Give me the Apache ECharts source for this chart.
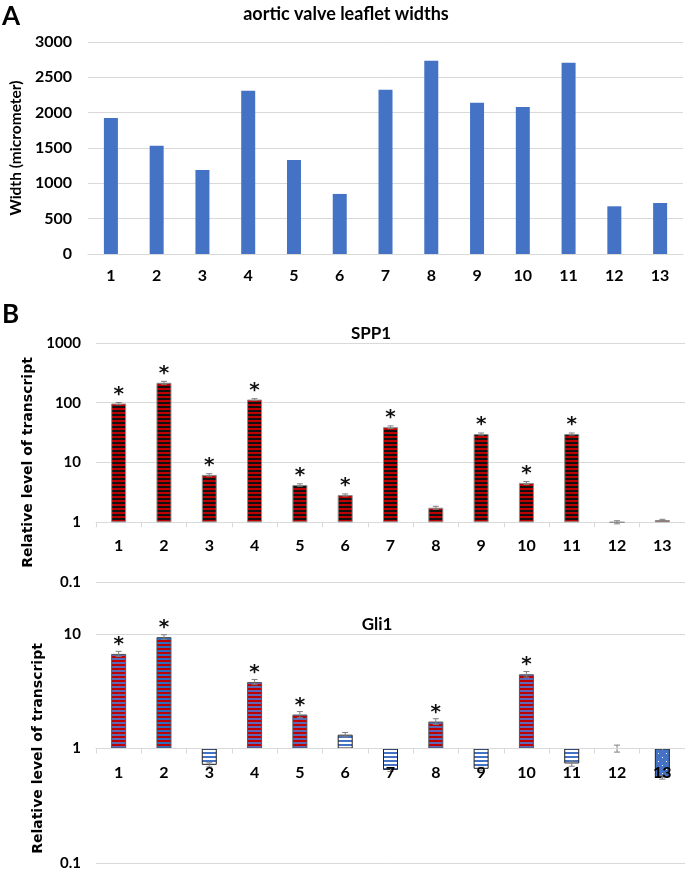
<!DOCTYPE html>
<html>
<head>
<meta charset="utf-8">
<script src="https://cdn.jsdelivr.net/npm/echarts@6/dist/echarts.min.js"></script>
<style>
  html, body { margin: 0; padding: 0; background: #fff; }
  #chart { width: 685px; height: 872px; }
</style>
</head>
<body>
<div id="chart"></div>
<script>
// ---------------- DATA ----------------
const categories = ['1', '2', '3', '4', '5', '6', '7', '8', '9', '10', '11', '12', '13'];

// Panel A: aortic valve leaflet widths (micrometer)
const widths = [1925, 1533, 1190, 2310, 1330, 850, 2325, 2735, 2142, 2080, 2706, 675, 722];
const widthAxisMin = 0, widthAxisMax = 3000, widthAxisStep = 500;

// Panel B: SPP1 relative level of transcript (log scale)
const spp1 = [97, 216, 6.2, 113, 4.2, 2.86, 39, 1.75, 30, 4.55, 30, 1.0, 1.09];
const spp1Err = [4, 12, 0.3, 4, 0.2, 0.12, 2, 0.1, 1.2, 0.25, 1.2, 0.06, 0.03];
const spp1Sig = [1, 1, 1, 1, 1, 1, 1, 0, 1, 1, 1, 0, 0];
const spp1AxisMin = 0.1, spp1AxisMax = 1000;

// Panel B: Gli1 relative level of transcript (log scale)
const gli1 = [6.7, 9.4, 0.72, 3.81, 1.98, 1.32, 0.65, 1.72, 0.665, 4.45, 0.74, 1.0, 0.56];
const gli1Err = [0.35, 0.45, 0.03, 0.2, 0.12, 0.06, 0.02, 0.1, 0.02, 0.25, 0.04, 0.07, 0.02];
const gli1Sig = [1, 1, 0, 1, 1, 0, 0, 1, 0, 1, 0, 0, 0];
const gli1AxisMin = 0.1, gli1AxisMax = 10;

// ---------------- STYLES ----------------
const gli1Fill = ['rp', 'rb', 'bw', 'rp', 'rp', 'bw', 'bw', 'rp', 'bw', 'rp', 'bw', 'bw', 'dot'];

function stripes(c1, n1, c2, n2) {
  const cv = document.createElement('canvas');
  cv.width = 4; cv.height = n1 + n2;
  const ctx = cv.getContext('2d');
  ctx.fillStyle = c1; ctx.fillRect(0, 0, 4, n1);
  ctx.fillStyle = c2; ctx.fillRect(0, n1, 4, n2);
  return { image: cv, repeat: 'repeat' };
}
function dots() {
  const cv = document.createElement('canvas');
  cv.width = 8; cv.height = 8;
  const ctx = cv.getContext('2d');
  ctx.fillStyle = '#4472c4'; ctx.fillRect(0, 0, 8, 8);
  ctx.fillStyle = '#ffffff'; ctx.fillRect(2, 1, 1, 1); ctx.fillRect(6, 5, 1, 1);
  return { image: cv, repeat: 'repeat' };
}
const fills = {
  rk: stripes('#c00000', 2, '#111111', 2),
  rp: stripes('#c00000', 2, '#5d68b6', 2),
  rb: stripes('#c00000', 2, '#2a6fc0', 2),
  bw: stripes('#4472c4', 2, '#ffffff', 2),
  dot: dots()
};

const LABEL_FONT = 'Lato, "Open Sans", sans-serif';
const GRID_COLOR = '#d9d9d9';

const gA = { left: 86, top: 42, width: 597, height: 212 };
const gS = { left: 96, top: 343, width: 589, height: 239 };
const gG = { left: 96, top: 634, width: 589, height: 229 };

function decadesBelowOne(min, max) {
  return Math.log10(1 / min) / Math.log10(max / min);
}

function errorSeries(name, values, errs, xIdx, yIdx) {
  return {
    type: 'custom',
    name: name,
    xAxisIndex: xIdx,
    yAxisIndex: yIdx,
    z: 5,
    silent: true,
    data: values.map((v, i) => [i, v - errs[i], v + errs[i]]),
    renderItem: function (params, api) {
      const lo = api.coord([api.value(0), api.value(1)]);
      const hi = api.coord([api.value(0), api.value(2)]);
      const hw = 3;
      const st = { stroke: '#7f7f7f', lineWidth: 1 };
      return {
        type: 'group',
        children: [
          { type: 'line', shape: { x1: lo[0], y1: lo[1], x2: hi[0], y2: hi[1] }, style: st },
          { type: 'line', shape: { x1: lo[0] - hw, y1: lo[1], x2: lo[0] + hw, y2: lo[1] }, style: st },
          { type: 'line', shape: { x1: hi[0] - hw, y1: hi[1], x2: hi[0] + hw, y2: hi[1] }, style: st }
        ]
      };
    }
  };
}

function catAxis(gridIndex, offset, showTicks, margin, z) {
  return {
    type: 'category',
    gridIndex: gridIndex,
    data: categories,
    boundaryGap: true,
    offset: offset,
    z: z,
    axisLine: { show: true, lineStyle: { color: GRID_COLOR, width: 1 } },
    axisTick: { show: showTicks, length: 5, lineStyle: { color: GRID_COLOR } },
    axisLabel: { color: '#000', fontFamily: LABEL_FONT, fontWeight: 'bold', fontSize: 16, margin: margin, interval: 0 }
  };
}

function logAxis(gridIndex, min, max) {
  return {
    type: 'log',
    logBase: 10,
    gridIndex: gridIndex,
    min: min,
    max: max,
    name: 'Relative level of transcript',
    nameLocation: 'middle',
    nameGap: 51,
    nameTextStyle: { fontFamily: '"DejaVu Sans", sans-serif', fontWeight: 'bold', fontSize: 14, color: '#000' },
    axisLine: { show: false },
    axisTick: { show: false },
    splitLine: { show: true, lineStyle: { color: GRID_COLOR, width: 1 } },
    axisLabel: {
      color: '#000', fontFamily: LABEL_FONT, fontWeight: 'bold', fontSize: 15, margin: 15,
      formatter: v => String(+v.toPrecision(6))
    }
  };
}

const starLabel = (sig) => ({
  show: true,
  position: 'top',
  distance: 0,
  offset: [0, 1],
  fontFamily: '"DejaVu Sans", sans-serif',
  fontSize: 20,
  fontWeight: 'bold',
  color: '#111',
  formatter: p => sig[p.dataIndex] ? '*' : ''
});

const option = {
  animation: false,
  backgroundColor: '#ffffff',
  grid: [
    Object.assign({ containLabel: false }, gA),
    Object.assign({ containLabel: false }, gS),
    Object.assign({ containLabel: false }, gG)
  ],
  graphic: [
    { type: 'text', left: 2, top: 4, style: { text: 'A', font: 'bold 26px ' + LABEL_FONT, fill: '#000' } },
    { type: 'text', x: 346, y: 14, style: { text: 'aortic valve leaflet widths', font: 'bold 18px ' + LABEL_FONT, fill: '#000', textAlign: 'center', textVerticalAlign: 'middle' } },
    { type: 'text', left: 2, top: 302, style: { text: 'B', font: 'bold 26px ' + LABEL_FONT, fill: '#000' } },
    { type: 'text', x: 371, y: 334, style: { text: 'SPP1', font: 'bold 17px ' + LABEL_FONT, fill: '#000', textAlign: 'center', textVerticalAlign: 'middle' } },
    { type: 'text', x: 377, y: 625, style: { text: 'Gli1', font: 'bold 17px ' + LABEL_FONT, fill: '#000', textAlign: 'center', textVerticalAlign: 'middle' } }
  ],
  xAxis: [
    catAxis(0, 0, false, 14, 0),
    catAxis(1, -gS.height * decadesBelowOne(spp1AxisMin, spp1AxisMax), true, 16, 0),
    catAxis(2, -gG.height * decadesBelowOne(gli1AxisMin, gli1AxisMax), true, 16, 10)
  ],
  yAxis: [
    {
      type: 'value',
      gridIndex: 0,
      min: widthAxisMin,
      max: widthAxisMax,
      interval: widthAxisStep,
      name: 'Width (micrometer)',
      nameLocation: 'middle',
      nameGap: 55,
      nameTextStyle: { fontFamily: LABEL_FONT, fontWeight: 'bold', fontSize: 15.5, color: '#000' },
      axisLine: { show: false },
      axisTick: { show: false },
      splitLine: { show: true, lineStyle: { color: GRID_COLOR, width: 1 } },
      axisLabel: { color: '#000', fontFamily: LABEL_FONT, fontWeight: 'bold', fontSize: 16, margin: 16, formatter: v => String(v) }
    },
    logAxis(1, spp1AxisMin, spp1AxisMax),
    logAxis(2, gli1AxisMin, gli1AxisMax)
  ],
  series: [
    {
      type: 'bar',
      name: 'widths',
      xAxisIndex: 0,
      yAxisIndex: 0,
      barWidth: 14,
      itemStyle: { color: '#4472c4' },
      data: widths
    },
    {
      type: 'bar',
      name: 'SPP1',
      xAxisIndex: 1,
      yAxisIndex: 1,
      barWidth: 15,
      z: 3,
      itemStyle: { color: fills.rk, borderColor: '#8c8c8c', borderWidth: 1 },
      label: starLabel(spp1Sig),
      data: spp1
    },
    errorSeries('SPP1 err', spp1, spp1Err, 1, 1),
    {
      type: 'bar',
      name: 'Gli1',
      xAxisIndex: 2,
      yAxisIndex: 2,
      barWidth: 15,
      z: 3,
      label: starLabel(gli1Sig),
      data: gli1.map((v, i) => ({
        value: v,
        itemStyle: { color: fills[gli1Fill[i]], borderColor: gli1Fill[i] === 'bw' || gli1Fill[i] === 'dot' ? '#222222' : '#555555', borderWidth: 1 }
      }))
    },
    errorSeries('Gli1 err', gli1, gli1Err, 2, 2)
  ]
};

const chart = echarts.init(document.getElementById('chart'), null, { renderer: 'canvas' });
chart.setOption(option);
</script>
</body>
</html>
